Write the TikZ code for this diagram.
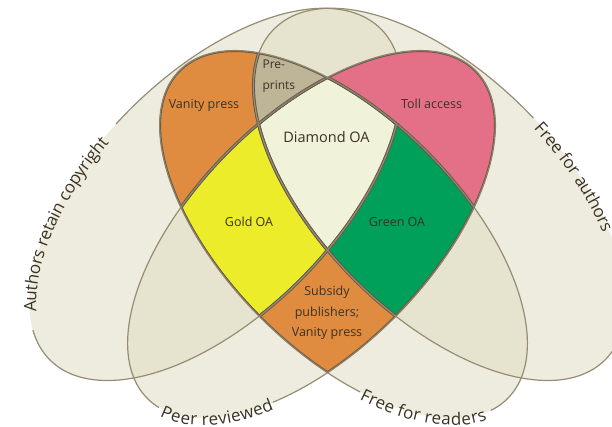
\documentclass[tikz,border=0pt]{standalone}
\usepackage{fontspec}
\setmainfont{Open Sans}
\usetikzlibrary{decorations.text}

\definecolor{paper}{RGB}{222,218,190}
\definecolor{ovaledge}{RGB}{150,140,118}
\definecolor{rimcol}{RGB}{100,90,70}
\definecolor{vanitycol}{RGB}{224,140,64}
\definecolor{preprintcol}{RGB}{190,180,152}
\definecolor{diamondcol}{RGB}{240,242,218}
\definecolor{tollcol}{RGB}{228,112,135}
\definecolor{goldcol}{RGB}{236,236,42}
\definecolor{greencol}{RGB}{0,160,90}
\definecolor{ink}{RGB}{58,50,36}

\newcommand\bigoval{(0,0) ellipse [x radius=234,y radius=120.5]}
\newcommand\smalloval{(0,0) ellipse [x radius=232,y radius=117.5]}
\newcommand\curvefont{\fontsize{17}{17}\selectfont\color{ink}}

\tikzset{
  copyoval/.style={shift={(215.4,232.6)},rotate=45},
  authoroval/.style={shift={(439.6,232.6)},rotate=-45},
  peeroval/.style={shift={(311.5,192.5)},rotate=45},
  readeroval/.style={shift={(343.5,192.5)},rotate=-45},
  ovalline/.style={draw=ovaledge,line width=1.2pt},
  rimline/.style={draw=rimcol,line width=3pt},
  regiontext/.style={text=ink,font=\fontsize{12.5}{20.5}\selectfont,align=center}
}

\begin{document}
\begin{tikzpicture}[x=1pt,y=1pt]
  \useasboundingbox (0,0) rectangle (612,427);
  \clip (0,0) rectangle (612,427);

  \fill[paper,fill opacity=0.5,copyoval] \bigoval;
  \fill[paper,fill opacity=0.5,authoroval] \bigoval;
  \fill[paper,fill opacity=0.5,peeroval] \smalloval;
  \fill[paper,fill opacity=0.5,readeroval] \smalloval;

  \draw[ovalline,copyoval] (164:234 and 120.5) arc[start angle=164,end angle=455,x radius=234,y radius=120.5];
  \draw[ovalline,authoroval] (87:234 and 120.5) arc[start angle=87,end angle=376,x radius=234,y radius=120.5];
  \draw[ovalline,peeroval] (231:232 and 117.5) arc[start angle=231,end angle=547,x radius=232,y radius=117.5];
  \draw[ovalline,readeroval] (350:232 and 117.5) arc[start angle=350,end angle=662,x radius=232,y radius=117.5];

  \begin{scope}
    \clip[readeroval] \smalloval;
    \clip[copyoval] \bigoval;
    \fill[vanitycol] (0,0) rectangle (612,427);
    \clip[authoroval] \bigoval;
    \fill[preprintcol] (0,0) rectangle (612,427);
  \end{scope}
  \begin{scope}
    \clip[peeroval] \smalloval;
    \clip[authoroval] \bigoval;
    \fill[tollcol] (0,0) rectangle (612,427);
  \end{scope}
  \begin{scope}
    \clip[peeroval] \smalloval;
    \clip[readeroval] \smalloval;
    \fill[vanitycol] (0,0) rectangle (612,427);
    \begin{scope}
      \clip[copyoval] \bigoval;
      \fill[goldcol] (0,0) rectangle (612,427);
    \end{scope}
    \begin{scope}
      \clip[authoroval] \bigoval;
      \fill[greencol] (0,0) rectangle (612,427);
      \clip[copyoval] \bigoval;
      \fill[diamondcol] (0,0) rectangle (612,427);
    \end{scope}
  \end{scope}

  \begin{scope}
    \clip[readeroval] \smalloval;
    \clip[copyoval] \bigoval;
    \foreach \s in {rimline,ovalline}{
      \draw[\s,peeroval] \smalloval;
      \draw[\s,readeroval] \smalloval;
      \draw[\s,copyoval] \bigoval;
      \draw[\s,authoroval] \bigoval;
    }
  \end{scope}
  \begin{scope}
    \clip[peeroval] \smalloval;
    \clip[authoroval] \bigoval;
    \foreach \s in {rimline,ovalline}{
      \draw[\s,peeroval] \smalloval;
      \draw[\s,readeroval] \smalloval;
      \draw[\s,authoroval] \bigoval;
    }
  \end{scope}
  \begin{scope}
    \clip[peeroval] \smalloval;
    \clip[readeroval] \smalloval;
    \foreach \s in {rimline,ovalline}{
      \draw[\s,peeroval] \smalloval;
      \draw[\s,readeroval] \smalloval;
      \draw[\s,copyoval] \bigoval;
      \draw[\s,authoroval] \bigoval;
    }
  \end{scope}

  \node[regiontext] (vanity) at (204,322) {Vanity press};
  \node[regiontext,font=\fontsize{12}{21}\selectfont,align=left,anchor=west] (preprints) at (259,351) {Pre-\\prints};
  \node[regiontext,font=\fontsize{14.5}{16}\selectfont] (diamond) at (326.5,290) {Diamond OA};
  \node[regiontext] (toll) at (431.5,323) {Toll access};
  \node[regiontext] (gold) at (249,205) {Gold OA};
  \node[regiontext] (green) at (397,205) {Green OA};
  \node[regiontext] (subsidy) at (327,114) {Subsidy\\publishers;\\Vanity press};

  \path[copyoval,decorate,decoration={text along path,text align=center,raise=-7pt,
    text={|\curvefont|Authors retain copyright}}]
    (164:234 and 120.5) arc[start angle=164,end angle=95,x radius=234,y radius=120.5];
  \path[authoroval,decorate,decoration={text along path,raise=-7pt,
    text={|\curvefont|Free for authors}}]
    (85:234 and 120.5) arc[start angle=85,end angle=10,x radius=234,y radius=120.5];
  \path[peeroval,decorate,decoration={text along path,text align=center,raise=-7pt,
    text={|\curvefont|Peer reviewed}}]
    (185:232 and 117.5) arc[start angle=185,end angle=233,x radius=232,y radius=117.5];
  \path[readeroval,decorate,decoration={text along path,text align=center,raise=-7pt,
    text={|\curvefont|Free for readers}}]
    (300:232 and 117.5) arc[start angle=300,end angle=352,x radius=232,y radius=117.5];
\end{tikzpicture}
\end{document}
